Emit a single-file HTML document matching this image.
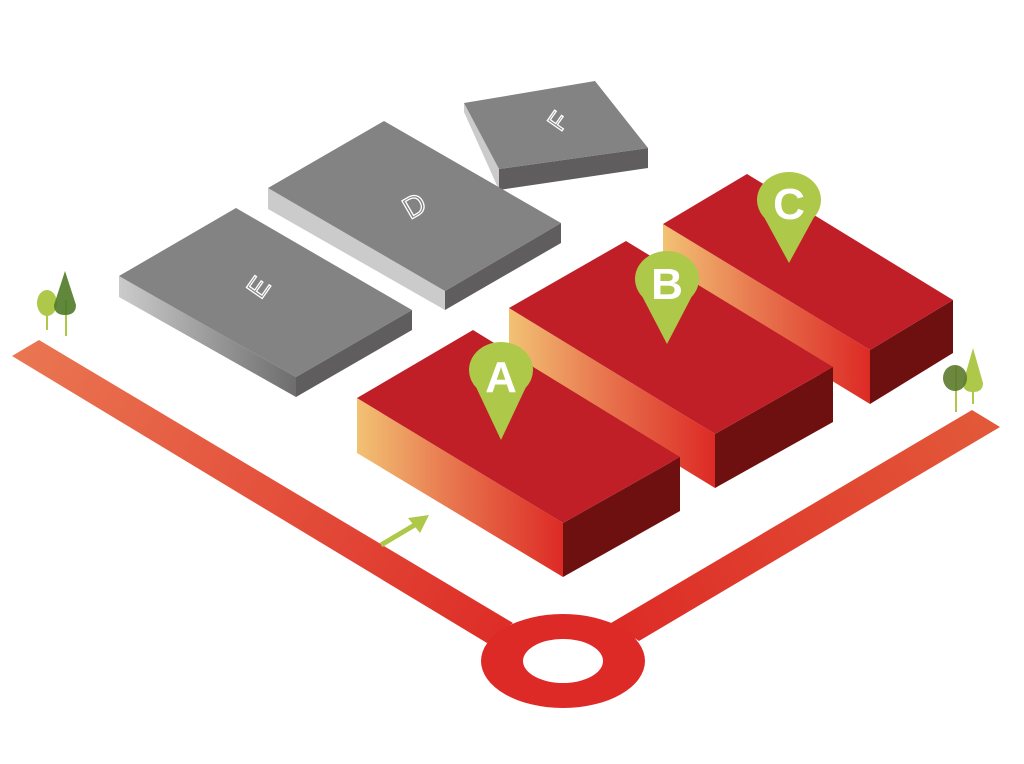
<!DOCTYPE html>
<html><head><meta charset="utf-8"><style>html,body{margin:0;padding:0;background:#fff}svg{display:block}</style></head>
<body>
<svg width="1024" height="764" viewBox="0 0 1024 764" xmlns="http://www.w3.org/2000/svg">
<defs>
<linearGradient id="roadL" x1="12" y1="350" x2="520" y2="640" gradientUnits="userSpaceOnUse"><stop offset="0" stop-color="#ea7752"/><stop offset="1" stop-color="#dd2b26"/></linearGradient>
<linearGradient id="roadR" x1="1000" y1="418" x2="620" y2="640" gradientUnits="userSpaceOnUse"><stop offset="0" stop-color="#e35a3a"/><stop offset="1" stop-color="#dd2b26"/></linearGradient>
<linearGradient id="side" x1="0" y1="0" x2="1" y2="0"><stop offset="0" stop-color="#f2c274"/><stop offset="0.45" stop-color="#e8774f"/><stop offset="1" stop-color="#dd2a25"/></linearGradient>
<linearGradient id="greyE" x1="0" y1="0" x2="1" y2="0"><stop offset="0" stop-color="#cbcbcb"/><stop offset="1" stop-color="#6e6d6d"/></linearGradient>
</defs>
<polygon points="12,356 39,340 513,623 487,643" fill="url(#roadL)"/>
<polygon points="611,623 972,410 1000,427 639,641" fill="url(#roadR)"/>
<ellipse cx="563" cy="661" rx="82" ry="47" fill="#dd2a27"/>
<ellipse cx="563" cy="661" rx="40" ry="22" fill="#fff"/>
<line x1="381" y1="545" x2="418" y2="523" stroke="#aec84a" stroke-width="5"/>
<polygon points="429,515 408,518 420,533" fill="#aec84a"/>
<rect x="46" y="300" width="2" height="30" fill="#aec84a"/>
<rect x="65" y="300" width="2" height="36" fill="#aec84a"/>
<ellipse cx="47" cy="303" rx="10" ry="13" fill="#aec84a"/>
<path d="M65,271 L76,305 Q76,315 65,315 Q54,315 54,305 Z" fill="#4f7a26" opacity="0.9"/>
<rect x="955" y="366" width="2" height="46" fill="#aec84a"/>
<rect x="972" y="370" width="2" height="34" fill="#aec84a"/>
<path d="M973,348 L983,383 Q983,392 973,392 Q963,392 963,383 Z" fill="#aec84a"/>
<ellipse cx="955" cy="378" rx="12" ry="13" fill="#5c7a2b" opacity="0.9"/>
<polygon points="464,103 499,169 499,190 464,112" fill="#cbcbcb"/>
<polygon points="499,169 648,148 648,168 499,190" fill="#5f5d5e"/>
<polygon points="464,103 595,81 648,148 499,169" fill="#838383"/>
<text x="558" y="130" fill="none" stroke="#fff" stroke-width="1.3" font-family="Liberation Sans, sans-serif" font-size="26" text-anchor="middle" transform="rotate(-55 558 121)">F</text>
<polygon points="268,188 445,291 445,310 268,209" fill="#cbcbcb"/>
<polygon points="445,291 561,223 561,243 445,310" fill="#5f5d5e"/>
<polygon points="268,188 384,121 561,223 445,291" fill="#838383"/>
<text x="414" y="216" fill="none" stroke="#fff" stroke-width="1.3" font-family="Liberation Sans, sans-serif" font-size="30" text-anchor="middle" transform="rotate(-30 414 205)">D</text>
<polygon points="119,276 296,377 296,397 119,297" fill="url(#greyE)"/>
<polygon points="296,377 412,310 412,330 296,397" fill="#5f5d5e"/>
<polygon points="119,276 236,208 412,310 296,377" fill="#838383"/>
<text x="258" y="297" fill="none" stroke="#fff" stroke-width="1.3" font-family="Liberation Sans, sans-serif" font-size="28" text-anchor="middle" transform="rotate(-55 258 287)">E</text>
<polygon points="663,224 870,350 870,404 663,278" fill="url(#side)"/>
<polygon points="870,350 953,300 953,353 870,404" fill="#6e0f10"/>
<polygon points="663,224 747,174 953,300 870,350" fill="#c11f27"/>
<polygon points="509,308 715,434 715,488 509,362" fill="url(#side)"/>
<polygon points="715,434 833,367 833,422 715,488" fill="#6e0f10"/>
<polygon points="509,308 626,241 833,367 715,434" fill="#c11f27"/>
<polygon points="357,398 563,523 563,577 357,453" fill="url(#side)"/>
<polygon points="563,523 680,457 680,511 563,577" fill="#6e0f10"/>
<polygon points="357,398 473,330 680,457 563,523" fill="#c11f27"/>
<g fill="#aec84a">
<path d="M789,263 L764.5,218 A32,28 0 1 1 813.5,218 Z"/>
<path d="M667,344 L642.5,297 A32,28 0 1 1 691.5,297 Z"/>
<path d="M501,440 L476.5,388 A32,28 0 1 1 525.5,388 Z"/>
</g>
<g fill="#fff" font-family="Liberation Sans, sans-serif" font-weight="bold" font-size="44" text-anchor="middle">
<text x="789" y="219">C</text>
<text x="667" y="299">B</text>
<text x="501" y="392">A</text>
</g>
</svg>
</body></html>
